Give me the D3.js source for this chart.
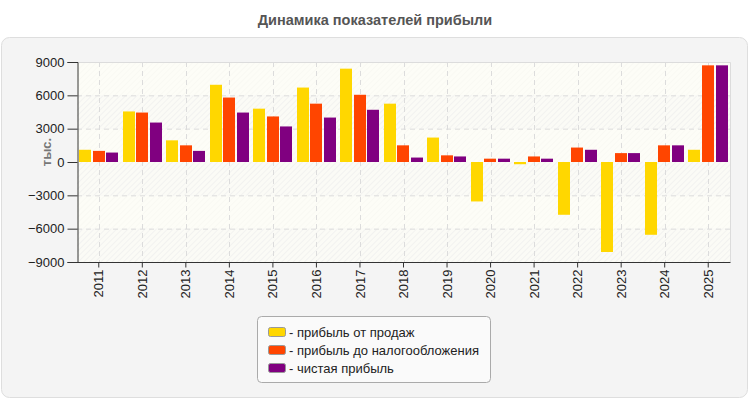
<!DOCTYPE html>
<html>
<head>
<meta charset="utf-8">
<script src="https://cdn.jsdelivr.net/npm/d3@7"></script>
<style>
  body { margin: 0; background: #fff; }
  svg { display: block; font-family: "Liberation Sans", Arial, sans-serif; }
</style>
</head>
<body>
<svg width="750" height="400"></svg>
<script>
const years = ["2011", "2012", "2013", "2014", "2015", "2016", "2017", "2018", "2019", "2020", "2021", "2022", "2023", "2024", "2025"];
const seriesNames = ["прибыль от продаж", "прибыль до налогообложения", "чистая прибыль"];
const salesProfit = [1100, 4550, 1950, 6950, 4800, 6700, 8400, 5250, 2200, -3550, -200, -4750, -8100, -6550, 1100];
const preTaxProfit = [1000, 4450, 1500, 5800, 4100, 5250, 6050, 1500, 600, 300, 500, 1300, 800, 1500, 8700];
const netProfit = [850, 3550, 1000, 4450, 3200, 4000, 4700, 400, 500, 300, 300, 1100, 800, 1500, 8700];
const yTicks = [-9000, -6000, -3000, 0, 3000, 6000, 9000];
const colors = ["#ffd700", "#ff4500", "#800080"];

const svg = d3.select("svg");

const plotLeft = 77, plotRight = 730, plotTop = 62, plotBottom = 262;

let xScale = d3.scaleBand()
    .domain(years)
    .range([plotLeft, plotRight]);

let xInner = d3.scaleBand()
    .domain(seriesNames)
    .range([2, xScale.bandwidth() - 2])
    .paddingInner(0.08);

let yScale = d3.scaleLinear()
    .domain([-9000, 9000])
    .range([plotBottom, plotTop]);

// outer panel
svg.append("rect")
    .attr("x", 1.5).attr("y", 37.5)
    .attr("width", 746).attr("height", 360)
    .attr("rx", 8)
    .attr("fill", "#f4f4f4")
    .attr("stroke", "#dedede");

// title
svg.append("text")
    .attr("x", 375).attr("y", 25)
    .attr("text-anchor", "middle")
    .attr("font-size", 14.5)
    .attr("font-weight", "bold")
    .attr("fill", "#555")
    .text("Динамика показателей прибыли");

// hatch pattern
const defs = svg.append("defs");
const pat = defs.append("pattern")
    .attr("id", "hatch")
    .attr("patternUnits", "userSpaceOnUse")
    .attr("width", 4).attr("height", 4)
    .attr("patternTransform", "rotate(45)");
pat.append("rect").attr("width", 4).attr("height", 4).attr("fill", "#fbfbf6");
pat.append("line")
    .attr("x1", 0).attr("y1", 0).attr("x2", 0).attr("y2", 4)
    .attr("stroke", "#ececec").attr("stroke-width", 1.2);

const pat2 = defs.append("pattern")
    .attr("id", "hatchLight")
    .attr("patternUnits", "userSpaceOnUse")
    .attr("width", 4).attr("height", 4)
    .attr("patternTransform", "rotate(45)");
pat2.append("rect").attr("width", 4).attr("height", 4).attr("fill", "#fdfdf7");
pat2.append("line")
    .attr("x1", 0).attr("y1", 0).attr("x2", 0).attr("y2", 4)
    .attr("stroke", "#f6f6f0").attr("stroke-width", 1);

// alternating bands
const bands = d3.pairs(yTicks);
svg.append("g")
    .selectAll("rect")
    .data(bands)
    .enter().append("rect")
    .attr("x", plotLeft)
    .attr("y", d => yScale(d[1]))
    .attr("width", plotRight - plotLeft)
    .attr("height", d => yScale(d[0]) - yScale(d[1]))
    .attr("fill", (d, i) => i % 2 == 0 ? "url(#hatch)" : "url(#hatchLight)");

// grid
svg.append("g")
    .selectAll("line")
    .data(yTicks.filter(t => t != 0 && t != -9000 && t != 9000))
    .enter().append("line")
    .attr("x1", plotLeft).attr("x2", plotRight)
    .attr("y1", d => yScale(d) + 0.5).attr("y2", d => yScale(d) + 0.5)
    .attr("stroke", "#dcdcdc").attr("stroke-dasharray", "5,4");

svg.append("g")
    .selectAll("line")
    .data(years)
    .enter().append("line")
    .attr("x1", d => Math.round(xScale(d) + xScale.bandwidth() / 2) + 0.5)
    .attr("x2", d => Math.round(xScale(d) + xScale.bandwidth() / 2) + 0.5)
    .attr("y1", plotTop).attr("y2", plotBottom)
    .attr("stroke", "#dcdcdc").attr("stroke-dasharray", "5,4");

// top and right borders
svg.append("path")
    .attr("d", `M${plotLeft},${plotTop + 0.5}H${plotRight + 0.5}V${plotBottom}`)
    .attr("fill", "none").attr("stroke", "#dcdcdc");

// bars
const allSeries = [salesProfit, preTaxProfit, netProfit];
allSeries.forEach((vals, s) => {
    svg.append("g")
        .selectAll("rect")
        .data(vals)
        .enter().append("rect")
        .attr("x", (d, i) => Math.round(xScale(years[i]) + xInner(seriesNames[s])))
        .attr("y", d => yScale(Math.max(0, d)))
        .attr("width", Math.round(xInner.bandwidth()))
        .attr("height", d => Math.abs(yScale(d) - yScale(0)))
        .attr("fill", colors[s]);
});

// axes
let yAxis = d3.axisLeft(yScale)
    .tickValues(yTicks)
    .tickFormat(d3.format("d"))
    .tickSizeOuter(0)
    .tickSize(10)
    .tickPadding(3);
let yg = svg.append("g")
    .attr("transform", `translate(${plotLeft + 0.5},0)`)
    .call(yAxis)
    .attr("font-family", null);
yg.selectAll("text").attr("font-size", 13).attr("fill", "#222");
yg.selectAll("line, path").attr("stroke", "#333");

let xAxis = d3.axisBottom(xScale)
    .tickSizeOuter(0)
    .tickSize(5)
    .tickPadding(2);
let xg = svg.append("g")
    .attr("transform", `translate(0,${plotBottom + 0.5})`)
    .call(xAxis)
    .attr("font-family", null);
xg.select(".domain").attr("d", `M${plotLeft},0H${plotRight + 0.5}`).attr("stroke", "#333");
xg.selectAll("line").attr("stroke", "#333");
xg.selectAll("text")
    .attr("font-size", 13)
    .attr("fill", "#222")
    .attr("text-anchor", "end")
    .attr("dy", "0.35em")
    .attr("dx", 0)
    .attr("x", -7)
    .attr("y", 0)
    .attr("transform", "rotate(-90)");

// y label
svg.append("text")
    .attr("transform", "translate(51,152) rotate(-90)")
    .attr("text-anchor", "middle")
    .attr("font-size", 13)
    .attr("font-weight", "bold")
    .attr("fill", "#777")
    .text("тыс.");

// legend
svg.append("rect")
    .attr("x", 257.5).attr("y", 316.5)
    .attr("width", 233).attr("height", 66)
    .attr("rx", 4)
    .attr("fill", "#fafafa")
    .attr("stroke", "#aaa");

const legend = svg.append("g")
    .selectAll("g")
    .data(seriesNames)
    .enter().append("g")
    .attr("transform", (d, i) => `translate(268,${332 + i * 18})`);
legend.append("rect")
    .attr("x", 0.5).attr("y", -4.5)
    .attr("width", 17).attr("height", 9)
    .attr("rx", 2)
    .attr("fill", (d, i) => colors[i])
    .attr("stroke", "#999");
legend.append("text")
    .attr("x", 21).attr("y", 0)
    .attr("dy", "0.35em")
    .attr("font-size", 13)
    .attr("fill", "#222")
    .text(d => "- " + d);
</script>
</body>
</html>
